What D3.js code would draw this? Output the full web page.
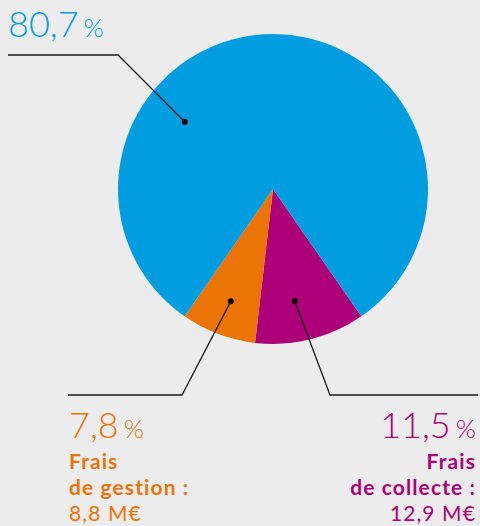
<!DOCTYPE html>
<html lang="fr">
<head>
    <meta charset="UTF-8">
    <title>Répartition des ressources</title>
    <script src="https://d3js.org/d3.v7.min.js"></script>
    <style>
        html, body { margin: 0; padding: 0; background: #ebeceb; }
        svg { display: block; }
        .big { font-family: Lato, "Open Sans", sans-serif; font-weight: 300; }
        .sub { font-family: Lato, "Open Sans", sans-serif; font-size: 21px; letter-spacing: 1.1px; }
        .leader { fill: none; stroke: #1d1d1b; stroke-width: 1.3px; }
    </style>
</head>
<body>
<svg id="chart" width="480" height="526"></svg>
<script>
    // data
    const categories = ["Frais de collecte", "Frais de gestion", "Missions sociales"];
    const shares = [11.5, 7.8, 80.7];
    const amounts = ["12,9 M€", "8,8 M€", null];
    const colors = ["#ad0078", "#ec7405", "#009ee0"];

    const cx = 273, cy = 189, R = 155;

    const svg = d3.select("#chart");

    const pie = d3.pie()
        .sort(null)
        .value(d => d)
        .startAngle(145.26 * Math.PI / 180)
        .endAngle((145.26 + 360) * Math.PI / 180);

    const arcs = pie(shares);
    const arc = d3.arc().innerRadius(0).outerRadius(R);

    const g = svg.append("g").attr("transform", `translate(${cx},${cy})`);
    g.selectAll("path")
        .data(arcs)
        .join("path")
        .attr("d", arc)
        .attr("fill", (d, i) => colors[i]);

    // label layout: dot (polar, degrees from 12 o'clock), elbow and end of the leader line
    const labels = [
        { angle: 169, r: 114, elbow: [330, 395], end: [478, 395], side: "right", x: 476, y: 438 },
        { angle: 200.6, r: 120, elbow: [182, 395], end: [68, 395], side: "left", x: 69, y: 438 },
        { angle: -52.7, r: 111, elbow: [118, 55], end: [8, 55], side: "left", x: 8, y: 37 }
    ];

    const fmt = v => d3.format(".1f")(v).replace(".", ",");

    arcs.forEach((a, i) => {
        const lab = labels[i];
        const ang = lab.angle * Math.PI / 180;
        const p = [cx + lab.r * Math.sin(ang), cy - lab.r * Math.cos(ang)];

        svg.append("path")
            .attr("class", "leader")
            .attr("d", d3.line()([p, lab.elbow, lab.end]));

        svg.append("circle")
            .attr("cx", p[0]).attr("cy", p[1])
            .attr("r", 3)
            .attr("fill", "#000");

        const anchor = lab.side === "right" ? "end" : "start";
        const t = svg.append("text")
            .attr("class", "big")
            .attr("x", lab.x).attr("y", lab.y)
            .attr("text-anchor", anchor)
            .attr("fill", colors[i]);
        t.append("tspan").attr("font-size", 36).text(fmt(shares[i]));
        t.append("tspan").attr("font-size", 26).attr("dx", 5).text("%");

        if (amounts[i]) {
            const words = categories[i].split(" ");
            const lines = [words[0], words.slice(1).join(" ") + " :"];
            lines.forEach((ln, k) => {
                svg.append("text")
                    .attr("class", "sub")
                    .attr("x", lab.x).attr("y", 469 + k * 25.5)
                    .attr("text-anchor", anchor)
                    .attr("font-weight", 700)
                    .attr("fill", colors[i])
                    .text(ln);
            });
            svg.append("text")
                .attr("class", "sub")
                .attr("x", lab.x).attr("y", 520.5)
                .attr("text-anchor", anchor)
                .attr("fill", colors[i])
                .text(amounts[i]);
        }
    });
</script>
</body>
</html>
